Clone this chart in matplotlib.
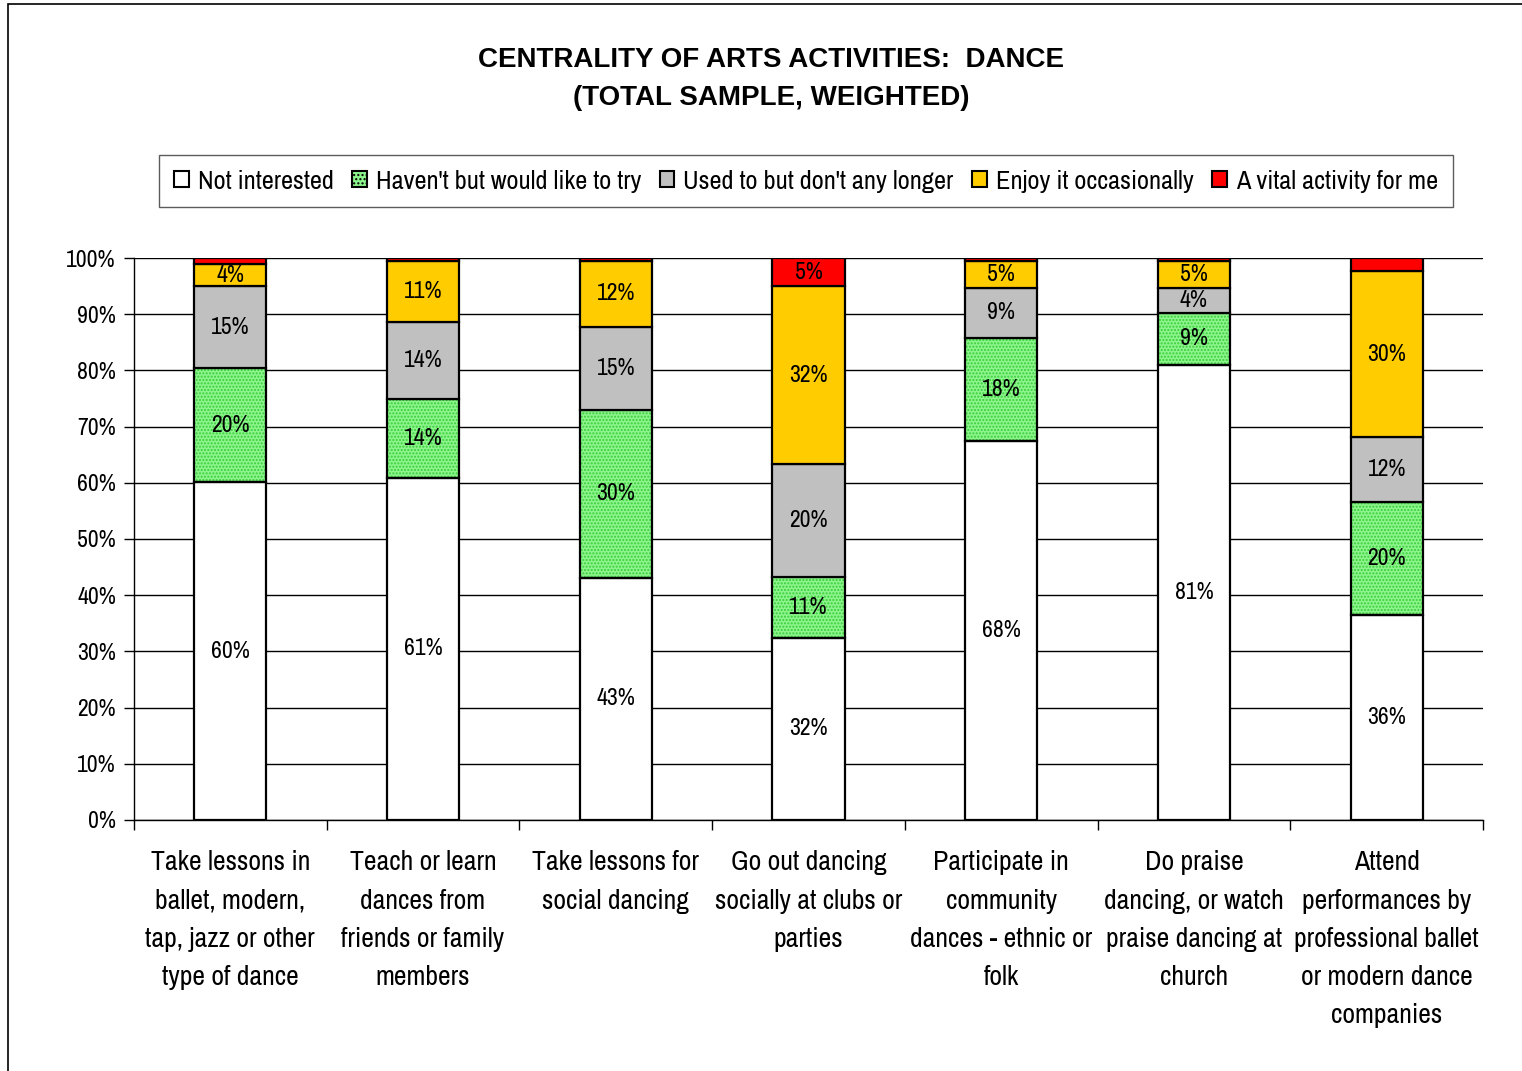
import matplotlib.pyplot as plt
from matplotlib.patches import Rectangle, Patch

plt.rcParams['font.family'] = ['Liberation Sans Narrow', 'Archivo Narrow', 'DejaVu Sans']

categories = [
    "Take lessons in\nballet, modern,\ntap, jazz or other\ntype of dance",
    "Teach or learn\ndances from\nfriends or family\nmembers",
    "Take lessons for\nsocial dancing",
    "Go out dancing\nsocially at clubs or\nparties",
    "Participate in\ncommunity\ndances - ethnic or\nfolk",
    "Do praise\ndancing, or watch\npraise dancing at\nchurch",
    "Attend\nperformances by\nprofessional ballet\nor modern dance\ncompanies",
]

not_interested = [60.1, 60.9, 43.1, 32.4, 67.5, 81.0, 36.4]
would_like = [20.3, 14.0, 29.9, 10.8, 18.3, 9.2, 20.1]
used_to = [14.6, 13.7, 14.8, 20.1, 8.9, 4.4, 11.6]
occasionally = [3.9, 10.9, 11.6, 31.7, 4.8, 4.8, 29.6]
vital = [1.1, 0.5, 0.6, 5.0, 0.5, 0.6, 2.3]

series = [
    ("Not interested", not_interested, "#FFFFFF"),
    ("Haven't but would like to try", would_like, "#8CF58C"),
    ("Used to but don't any longer", used_to, "#C0C0C0"),
    ("Enjoy it occasionally", occasionally, "#FFCC00"),
    ("A vital activity for me", vital, "#FF0000"),
]

fig = plt.figure(figsize=(15.22, 10.71), dpi=100)
ax = fig.add_axes([0.088, 0.2344, 0.8864, 0.5247])

# outer chart frame
fig.patches.append(Rectangle((8 / 1522, -0.05), 1.1, 1 - 4 / 1071 + 0.05,
                             transform=fig.transFigure, fill=False,
                             edgecolor='black', lw=1.2))

x = range(len(categories))
width = 0.374
bottom = [0.0] * len(categories)
for name, vals, color in series:
    if name.startswith("Haven't"):
        ax.bar(x, vals, width, bottom=bottom, color=color, edgecolor='#3ACC3A',
               hatch='.....', linewidth=0, zorder=2)
        ax.bar(x, vals, width, bottom=bottom, fill=False, edgecolor='black',
               linewidth=1.6, zorder=3)
    else:
        ax.bar(x, vals, width, bottom=bottom, color=color, edgecolor='black',
               linewidth=1.6, zorder=3)
    for i, v in enumerate(vals):
        if v >= 3:
            ax.text(i, bottom[i] + v / 2, f"{v:.0f}%", ha='center', va='center',
                    fontsize=17, fontweight='bold', zorder=4)
    bottom = [b + v for b, v in zip(bottom, vals)]

ax.set_xlim(-0.5, len(categories) - 0.5)
ax.set_ylim(0, 100)
ax.set_yticks(range(0, 101, 10))
ax.set_yticklabels([f"{t}%" for t in range(0, 101, 10)], fontsize=17)
ax.set_xticks([i + 0.5 for i in range(-1, len(categories))])
ax.set_xticklabels([])
ax.tick_params(axis='x', length=7, width=1, color='black')
ax.tick_params(axis='y', length=7, width=1, color='black', pad=6)
for i, c in enumerate(categories):
    ax.text(i, -5.4, c, ha='center', va='top', fontsize=20, linespacing=1.66,
            transform=ax.transData)

ax.grid(axis='y', color='black', lw=1, zorder=1)
ax.set_axisbelow(True)
for s in ['top', 'right']:
    ax.spines[s].set_visible(False)
ax.spines['left'].set_linewidth(1)
ax.spines['bottom'].set_linewidth(1)

handles = []
for name, vals, color in series:
    if name.startswith("Haven't"):
        handles.append(Patch(facecolor=color, edgecolor='black', hatch='....', lw=1.5, label=name))
    else:
        handles.append(Patch(facecolor=color, edgecolor='black', lw=1.5, label=name))
leg = fig.legend(handles=handles, loc='center', bbox_to_anchor=(806 / 1522, 1 - 181 / 1071),
                 ncol=5, fontsize=19, frameon=True, fancybox=False, handlelength=0.55,
                 handleheight=0.55, handletextpad=0.35, columnspacing=0.7,
                 borderpad=0.55, edgecolor='#333333')
leg.get_frame().set_linewidth(1)

fig.text(771 / 1522, 1 - 60 / 1071, "CENTRALITY OF ARTS ACTIVITIES:  DANCE",
         ha='center', va='center', fontsize=20, fontweight='bold',
         family=['Liberation Sans', 'DejaVu Sans'])
fig.text(771 / 1522, 1 - 98 / 1071, "(TOTAL SAMPLE, WEIGHTED)",
         ha='center', va='center', fontsize=20, fontweight='bold',
         family=['Liberation Sans', 'DejaVu Sans'])

fig.savefig("out.png", dpi=100)
